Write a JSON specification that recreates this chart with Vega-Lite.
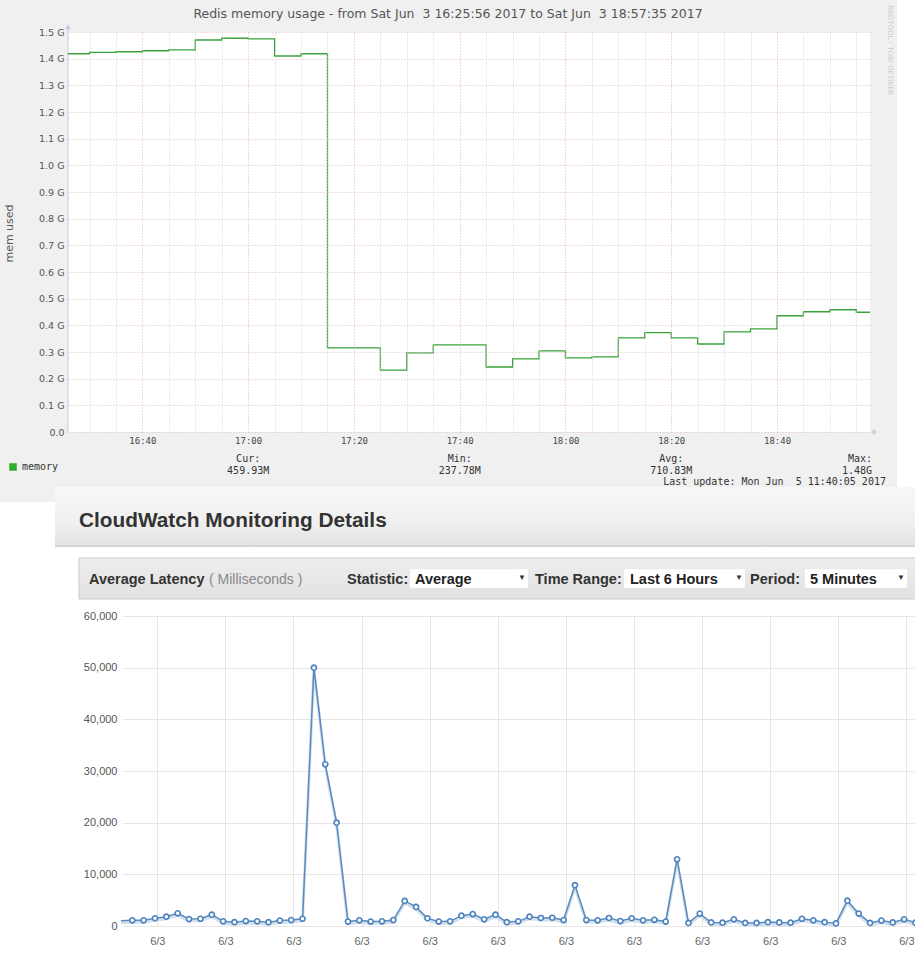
{
"$schema": "https://vega.github.io/schema/vega-lite/v6.json",
"width": 915, "height": 979,
"autosize": {"type": "none"},
"padding": 0,
"background": "#ffffff",
"view": {"stroke": null, "fill": null},
"config": {"font": "Liberation Sans"},
"title": {"text": "Redis memory usage - from Sat Jun\u00a0 3 16:25:56 2017 to Sat Jun\u00a0 3 18:57:35 2017", "font": "DejaVu Sans", "fontSize": 12.5, "fontWeight": "normal", "color": "#555555", "anchor": "middle", "frame": "group", "offset": -20, "dx": -9.5},
"datasets": {
 "memory": [
   {"t":"2017-06-03T16:25:56","v":1.4185,"series":"memory"},
   {"t":"2017-06-03T16:30:00","v":1.4235,"series":"memory"},
   {"t":"2017-06-03T16:35:00","v":1.426,"series":"memory"},
   {"t":"2017-06-03T16:40:00","v":1.4296,"series":"memory"},
   {"t":"2017-06-03T16:45:00","v":1.433,"series":"memory"},
   {"t":"2017-06-03T16:50:00","v":1.47,"series":"memory"},
   {"t":"2017-06-03T16:55:00","v":1.4765,"series":"memory"},
   {"t":"2017-06-03T17:00:00","v":1.474,"series":"memory"},
   {"t":"2017-06-03T17:05:00","v":1.41,"series":"memory"},
   {"t":"2017-06-03T17:10:00","v":1.4185,"series":"memory"},
   {"t":"2017-06-03T17:15:00","v":0.3153,"series":"memory"},
   {"t":"2017-06-03T17:20:00","v":0.3153,"series":"memory"},
   {"t":"2017-06-03T17:25:00","v":0.2324,"series":"memory"},
   {"t":"2017-06-03T17:30:00","v":0.2965,"series":"memory"},
   {"t":"2017-06-03T17:35:00","v":0.3266,"series":"memory"},
   {"t":"2017-06-03T17:40:00","v":0.3266,"series":"memory"},
   {"t":"2017-06-03T17:45:00","v":0.2437,"series":"memory"},
   {"t":"2017-06-03T17:50:00","v":0.2739,"series":"memory"},
   {"t":"2017-06-03T17:55:00","v":0.304,"series":"memory"},
   {"t":"2017-06-03T18:00:00","v":0.2776,"series":"memory"},
   {"t":"2017-06-03T18:05:00","v":0.2814,"series":"memory"},
   {"t":"2017-06-03T18:10:00","v":0.353,"series":"memory"},
   {"t":"2017-06-03T18:15:00","v":0.373,"series":"memory"},
   {"t":"2017-06-03T18:20:00","v":0.353,"series":"memory"},
   {"t":"2017-06-03T18:25:00","v":0.33,"series":"memory"},
   {"t":"2017-06-03T18:30:00","v":0.3756,"series":"memory"},
   {"t":"2017-06-03T18:35:00","v":0.387,"series":"memory"},
   {"t":"2017-06-03T18:40:00","v":0.436,"series":"memory"},
   {"t":"2017-06-03T18:45:00","v":0.451,"series":"memory"},
   {"t":"2017-06-03T18:50:00","v":0.4585,"series":"memory"},
   {"t":"2017-06-03T18:55:00","v":0.449,"series":"memory"},
   {"t":"2017-06-03T18:57:35","v":0.449,"series":"memory"}
 ],
 "latency": [
   {"t":"2017-06-03T15:44:00","v":1000},{"t":"2017-06-03T15:49:00","v":1100},{"t":"2017-06-03T15:54:00","v":1100},
   {"t":"2017-06-03T15:59:00","v":1500},{"t":"2017-06-03T16:04:00","v":1800},{"t":"2017-06-03T16:09:00","v":2450},
   {"t":"2017-06-03T16:14:00","v":1350},{"t":"2017-06-03T16:19:00","v":1400},{"t":"2017-06-03T16:24:00","v":2200},
   {"t":"2017-06-03T16:29:00","v":900},{"t":"2017-06-03T16:34:00","v":750},{"t":"2017-06-03T16:39:00","v":950},
   {"t":"2017-06-03T16:44:00","v":900},{"t":"2017-06-03T16:49:00","v":750},{"t":"2017-06-03T16:54:00","v":1050},
   {"t":"2017-06-03T16:59:00","v":1150},{"t":"2017-06-03T17:04:00","v":1400},{"t":"2017-06-03T17:09:00","v":50000},
   {"t":"2017-06-03T17:14:00","v":31300},{"t":"2017-06-03T17:19:00","v":20000},{"t":"2017-06-03T17:24:00","v":850},
   {"t":"2017-06-03T17:29:00","v":1100},{"t":"2017-06-03T17:34:00","v":850},{"t":"2017-06-03T17:39:00","v":900},
   {"t":"2017-06-03T17:44:00","v":1150},{"t":"2017-06-03T17:49:00","v":4850},{"t":"2017-06-03T17:54:00","v":3700},
   {"t":"2017-06-03T17:59:00","v":1500},{"t":"2017-06-03T18:04:00","v":850},{"t":"2017-06-03T18:09:00","v":900},
   {"t":"2017-06-03T18:14:00","v":2000},{"t":"2017-06-03T18:19:00","v":2300},{"t":"2017-06-03T18:24:00","v":1300},
   {"t":"2017-06-03T18:29:00","v":2200},{"t":"2017-06-03T18:34:00","v":750},{"t":"2017-06-03T18:39:00","v":900},
   {"t":"2017-06-03T18:44:00","v":1800},{"t":"2017-06-03T18:49:00","v":1550},{"t":"2017-06-03T18:54:00","v":1600},
   {"t":"2017-06-03T18:59:00","v":1150},{"t":"2017-06-03T19:04:00","v":7900},{"t":"2017-06-03T19:09:00","v":1150},
   {"t":"2017-06-03T19:14:00","v":1100},{"t":"2017-06-03T19:19:00","v":1550},{"t":"2017-06-03T19:24:00","v":950},
   {"t":"2017-06-03T19:29:00","v":1500},{"t":"2017-06-03T19:34:00","v":1100},{"t":"2017-06-03T19:39:00","v":1200},
   {"t":"2017-06-03T19:44:00","v":850},{"t":"2017-06-03T19:49:00","v":12900},{"t":"2017-06-03T19:54:00","v":600},
   {"t":"2017-06-03T19:59:00","v":2400},{"t":"2017-06-03T20:04:00","v":700},{"t":"2017-06-03T20:09:00","v":650},
   {"t":"2017-06-03T20:14:00","v":1300},{"t":"2017-06-03T20:19:00","v":600},{"t":"2017-06-03T20:24:00","v":600},
   {"t":"2017-06-03T20:29:00","v":750},{"t":"2017-06-03T20:34:00","v":700},{"t":"2017-06-03T20:39:00","v":650},
   {"t":"2017-06-03T20:44:00","v":1400},{"t":"2017-06-03T20:49:00","v":1100},{"t":"2017-06-03T20:54:00","v":750},
   {"t":"2017-06-03T20:59:00","v":500},{"t":"2017-06-03T21:04:00","v":4900},{"t":"2017-06-03T21:09:00","v":2400},
   {"t":"2017-06-03T21:14:00","v":600},{"t":"2017-06-03T21:19:00","v":1050},{"t":"2017-06-03T21:24:00","v":700},
   {"t":"2017-06-03T21:29:00","v":1300},{"t":"2017-06-03T21:34:00","v":650}
 ]
},
"resolve": {"scale": {"x": "independent", "y": "independent", "color": "independent"}},
"layer": [
{
 "resolve": {"axis": {"x": "independent", "y": "independent"}},
 "layer": [
 {"data": {"values": [{}]},
  "mark": {"type": "rect", "fill": "#f0f0f0"},
  "encoding": {
   "x": {"datum": {"year":2017,"month":6,"date":3,"hours":16,"minutes":13,"seconds":4,"milliseconds":500}, "type": "temporal",
     "scale": {"domain": [{"year":2017,"month":6,"date":3,"hours":16,"minutes":13,"seconds":4,"milliseconds":500},{"year":2017,"month":6,"date":3,"hours":19,"minutes":6,"seconds":5,"milliseconds":500}]}, "axis": null},
   "x2": {"datum": {"year":2017,"month":6,"date":3,"hours":19,"minutes":2,"seconds":41}},
   "y": {"datum": 1.62, "type": "quantitative", "scale": {"domain": [-2.05125, 1.62], "nice": false, "zero": false}, "axis": null},
   "y2": {"datum": -0.2625}
  }},
 {"data": {"values": [{}]},
  "mark": {"type": "rect", "fill": "#ffffff"},
  "encoding": {
   "x": {"datum": {"year":2017,"month":6,"date":3,"hours":16,"minutes":25,"seconds":56}, "type": "temporal",
     "axis": {"orient": "top", "offset": -432, "zindex": 1, "labels": false, "domain": false, "grid": false, "ticks": true, "tickSize": 400, "tickDash": [1,2], "tickWidth": 1, "title": null, "maxExtent": 1000,
       "tickColor": {"condition": {"test": "minutes(datum.value) % 20 === 0", "value": "#e6b0b0"}, "value": "#d3d3d3"},
       "values": [
        {"year":2017,"month":6,"date":3,"hours":16,"minutes":30},{"year":2017,"month":6,"date":3,"hours":16,"minutes":35},
        {"year":2017,"month":6,"date":3,"hours":16,"minutes":40},{"year":2017,"month":6,"date":3,"hours":16,"minutes":45},
        {"year":2017,"month":6,"date":3,"hours":16,"minutes":50},{"year":2017,"month":6,"date":3,"hours":16,"minutes":55},
        {"year":2017,"month":6,"date":3,"hours":17,"minutes":0},{"year":2017,"month":6,"date":3,"hours":17,"minutes":5},
        {"year":2017,"month":6,"date":3,"hours":17,"minutes":10},{"year":2017,"month":6,"date":3,"hours":17,"minutes":15},
        {"year":2017,"month":6,"date":3,"hours":17,"minutes":20},{"year":2017,"month":6,"date":3,"hours":17,"minutes":25},
        {"year":2017,"month":6,"date":3,"hours":17,"minutes":30},{"year":2017,"month":6,"date":3,"hours":17,"minutes":35},
        {"year":2017,"month":6,"date":3,"hours":17,"minutes":40},{"year":2017,"month":6,"date":3,"hours":17,"minutes":45},
        {"year":2017,"month":6,"date":3,"hours":17,"minutes":50},{"year":2017,"month":6,"date":3,"hours":17,"minutes":55},
        {"year":2017,"month":6,"date":3,"hours":18,"minutes":0},{"year":2017,"month":6,"date":3,"hours":18,"minutes":5},
        {"year":2017,"month":6,"date":3,"hours":18,"minutes":10},{"year":2017,"month":6,"date":3,"hours":18,"minutes":15},
        {"year":2017,"month":6,"date":3,"hours":18,"minutes":20},{"year":2017,"month":6,"date":3,"hours":18,"minutes":25},
        {"year":2017,"month":6,"date":3,"hours":18,"minutes":30},{"year":2017,"month":6,"date":3,"hours":18,"minutes":35},
        {"year":2017,"month":6,"date":3,"hours":18,"minutes":40},{"year":2017,"month":6,"date":3,"hours":18,"minutes":45},
        {"year":2017,"month":6,"date":3,"hours":18,"minutes":50},{"year":2017,"month":6,"date":3,"hours":18,"minutes":55}
       ]}},
   "x2": {"datum": {"year":2017,"month":6,"date":3,"hours":18,"minutes":57,"seconds":35}},
   "y": {"datum": 0, "type": "quantitative",
     "axis": {"orient": "left", "offset": -870, "zindex": 1, "values": [0,0.1,0.2,0.3,0.4,0.5,0.6,0.7,0.8,0.9,1.0,1.1,1.2,1.3,1.4,1.5],
       "tickSize": 802, "tickDash": [1,2], "tickColor": "#dcbcbc", "tickWidth": 1,
       "labelExpr": "datum.value === 0 ? '0.0' : format(datum.value, '.1f') + ' G'",
       "labelFont": "DejaVu Sans", "labelFontSize": 9.5, "labelColor": "#555555", "labelPadding": 4,
       "domain": false, "grid": false, "maxExtent": 1000, "minExtent": 0,
       "title": "mem used", "titleFont": "DejaVu Sans", "titleFontSize": 11, "titleFontWeight": "normal", "titleColor": "#555555",
       "titleX": -856, "titleY": 233, "titleAngle": -90, "titleAlign": "center", "titleBaseline": "bottom"}},
   "y2": {"datum": 1.5}
  }},
 {"data": {"values": [{}]},
  "mark": {"type": "rule", "color": "#c6c6e6", "strokeWidth": 1},
  "encoding": {
   "x": {"datum": {"year":2017,"month":6,"date":3,"hours":16,"minutes":25,"seconds":56}, "type": "temporal", "axis": null},
   "y": {"datum": 0, "type": "quantitative", "axis": null},
   "y2": {"datum": 1.52}
  }},
 {"data": {"name": "memory"},
  "mark": {"type": "line", "interpolate": "step-after", "strokeWidth": 1.3},
  "encoding": {
   "x": {"field": "t", "type": "temporal",
     "axis": {"orient": "bottom", "offset": -547, "zindex": 1, "format": "%H:%M", "labelFont": "DejaVu Sans Mono", "labelFontSize": 9, "labelColor": "#444444", "labelPadding": 4, "ticks": false, "domain": false, "grid": false, "title": null, "labelFlush": false, "labelOverlap": false,
       "values": [{"year":2017,"month":6,"date":3,"hours":16,"minutes":40},{"year":2017,"month":6,"date":3,"hours":17,"minutes":0},{"year":2017,"month":6,"date":3,"hours":17,"minutes":20},{"year":2017,"month":6,"date":3,"hours":17,"minutes":40},{"year":2017,"month":6,"date":3,"hours":18,"minutes":0},{"year":2017,"month":6,"date":3,"hours":18,"minutes":20},{"year":2017,"month":6,"date":3,"hours":18,"minutes":40}]}},
   "y": {"field": "v", "type": "quantitative", "axis": null},
   "color": {"field": "series", "type": "nominal", "scale": {"range": ["#3aa23a"]},
     "legend": {"orient": "none", "legendX": 8, "legendY": 462, "title": null, "symbolType": "square", "symbolSize": 36, "symbolFillColor": "#20b820", "symbolStrokeColor": "#20b820", "labelFont": "DejaVu Sans Mono", "labelFontSize": 10, "labelColor": "#333333", "labelOffset": 4, "padding": 0, "zindex": 1}}
  }},
 {"data": {"values": [{"s": "Cur:\n459.93M"}]},
  "mark": {"type": "text", "lineBreak": "\n", "font": "DejaVu Sans Mono", "fontSize": 10, "lineHeight": 12.3, "color": "#333333", "align": "center", "baseline": "top"},
  "encoding": {"text": {"field": "s"},
   "x": {"datum": {"year":2017,"month":6,"date":3,"hours":17,"minutes":0}, "type": "temporal", "axis": null},
   "y": {"datum": -0.082, "type": "quantitative", "axis": null}}},
 {"data": {"values": [{"s": "Min:\n237.78M"}]},
  "mark": {"type": "text", "lineBreak": "\n", "font": "DejaVu Sans Mono", "fontSize": 10, "lineHeight": 12.3, "color": "#333333", "align": "center", "baseline": "top"},
  "encoding": {"text": {"field": "s"},
   "x": {"datum": {"year":2017,"month":6,"date":3,"hours":17,"minutes":40}, "type": "temporal", "axis": null},
   "y": {"datum": -0.082, "type": "quantitative", "axis": null}}},
 {"data": {"values": [{"s": "Avg:\n710.83M"}]},
  "mark": {"type": "text", "lineBreak": "\n", "font": "DejaVu Sans Mono", "fontSize": 10, "lineHeight": 12.3, "color": "#333333", "align": "center", "baseline": "top"},
  "encoding": {"text": {"field": "s"},
   "x": {"datum": {"year":2017,"month":6,"date":3,"hours":18,"minutes":20}, "type": "temporal", "axis": null},
   "y": {"datum": -0.082, "type": "quantitative", "axis": null}}},
 {"data": {"values": [{"s": "Max:\n1.48G"}]},
  "mark": {"type": "text", "lineBreak": "\n", "font": "DejaVu Sans Mono", "fontSize": 10, "lineHeight": 12.3, "color": "#333333", "align": "right", "baseline": "top"},
  "encoding": {"text": {"field": "s"},
   "x": {"datum": {"year":2017,"month":6,"date":3,"hours":18,"minutes":57,"seconds":58}, "type": "temporal", "axis": null},
   "y": {"datum": -0.082, "type": "quantitative", "axis": null}}},
 {"data": {"values": [{"s": "Last update: Mon Jun\u00a0 5 11:40:05 2017"}]},
  "mark": {"type": "text", "font": "DejaVu Sans Mono", "fontSize": 10, "color": "#333333", "align": "right", "baseline": "top"},
  "encoding": {"text": {"field": "s"},
   "x": {"datum": {"year":2017,"month":6,"date":3,"hours":19,"minutes":0,"seconds":36}, "type": "temporal", "axis": null},
   "y": {"datum": -0.167, "type": "quantitative", "axis": null}}},
 {"data": {"values": [{"s": "RRDTOOL / TOBI OETIKER"}]},
  "mark": {"type": "text", "font": "DejaVu Sans", "fontSize": 7, "color": "#cccccc", "align": "left", "baseline": "middle", "angle": 90},
  "encoding": {"text": {"field": "s"},
   "x": {"datum": {"year":2017,"month":6,"date":3,"hours":19,"minutes":1,"seconds":22}, "type": "temporal", "axis": null},
   "y": {"datum": 1.601, "type": "quantitative", "axis": null}}},
 {"data": {"values": [{}]},
  "mark": {"type": "point", "shape": "triangle-up", "filled": true, "color": "#c6c6e6", "size": 30, "opacity": 1},
  "encoding": {
   "x": {"datum": {"year":2017,"month":6,"date":3,"hours":16,"minutes":25,"seconds":56}, "type": "temporal", "axis": null},
   "y": {"datum": 1.519, "type": "quantitative", "axis": null}}},
 {"data": {"values": [{}]},
  "mark": {"type": "point", "shape": "triangle-right", "filled": true, "color": "#c6c6e6", "size": 30, "opacity": 1},
  "encoding": {
   "x": {"datum": {"year":2017,"month":6,"date":3,"hours":18,"minutes":58,"seconds":31}, "type": "temporal", "axis": null},
   "y": {"datum": 0, "type": "quantitative", "axis": null}}}
 ]
},
{
 "resolve": {"axis": {"x": "independent", "y": "independent"}},
 "layer": [
 {"data": {"values": [{}]},
  "mark": {"type": "rect", "fill": {"gradient": "linear", "x1": 0, "y1": 0, "x2": 0, "y2": 1, "stops": [{"offset": 0, "color": "#f7f7f7"}, {"offset": 0.6, "color": "#f0f0f0"}, {"offset": 0.96, "color": "#e3e3e3"}, {"offset": 1, "color": "#cfcfcf"}]}},
  "encoding": {
   "x": {"datum": {"year":2017,"month":6,"date":3,"hours":15,"minutes":14,"seconds":57}, "type": "temporal",
     "scale": {"domain": [{"year":2017,"month":6,"date":3,"hours":14,"minutes":50,"seconds":43},{"year":2017,"month":6,"date":3,"hours":21,"minutes":33,"seconds":48}]}, "axis": null},
   "x2": {"datum": {"year":2017,"month":6,"date":3,"hours":21,"minutes":33,"seconds":48}},
   "y": {"datum": 84967.7, "type": "quantitative", "scale": {"domain": [-10258.06, 179225.8], "nice": false, "zero": false}, "axis": null},
   "y2": {"datum": 73354.8}
  }},
 {"data": {"values": [{}]},
  "mark": {"type": "rect", "stroke": "#cccccc", "strokeWidth": 1, "fill": {"gradient": "linear", "x1": 0, "y1": 0, "x2": 0, "y2": 1, "stops": [{"offset": 0, "color": "#eeeeee"}, {"offset": 1, "color": "#e1e1e1"}]}},
  "encoding": {
   "x": {"datum": {"year":2017,"month":6,"date":3,"hours":15,"minutes":25,"seconds":31}, "type": "temporal", "axis": null},
   "x2": {"datum": {"year":2017,"month":6,"date":3,"hours":21,"minutes":40}},
   "y": {"datum": 71225.8, "type": "quantitative", "axis": null},
   "y2": {"datum": 63290.3}
  }},
 {"data": {"values": [{}]},
  "mark": {"type": "rect", "fill": "#ffffff"},
  "encoding": {
   "x": {"datum": {"year":2017,"month":6,"date":3,"hours":17,"minutes":51,"seconds":20}, "type": "temporal", "axis": null},
   "x2": {"datum": {"year":2017,"month":6,"date":3,"hours":18,"minutes":43,"seconds":19}},
   "y": {"datum": 69038.7, "type": "quantitative", "axis": null},
   "y2": {"datum": 65477.4}
  }},
 {"data": {"values": [{}]},
  "mark": {"type": "rect", "fill": "#ffffff"},
  "encoding": {
   "x": {"datum": {"year":2017,"month":6,"date":3,"hours":19,"minutes":25,"seconds":36}, "type": "temporal", "axis": null},
   "x2": {"datum": {"year":2017,"month":6,"date":3,"hours":20,"minutes":18,"seconds":55}},
   "y": {"datum": 69038.7, "type": "quantitative", "axis": null},
   "y2": {"datum": 65477.4}
  }},
 {"data": {"values": [{}]},
  "mark": {"type": "rect", "fill": "#ffffff"},
  "encoding": {
   "x": {"datum": {"year":2017,"month":6,"date":3,"hours":20,"minutes":45,"seconds":21}, "type": "temporal", "axis": null},
   "x2": {"datum": {"year":2017,"month":6,"date":3,"hours":21,"minutes":30,"seconds":17}},
   "y": {"datum": 69038.7, "type": "quantitative", "axis": null},
   "y2": {"datum": 65477.4}
  }},
 {"data": {"values": [{"s": "CloudWatch Monitoring Details"}]},
  "mark": {"type": "text", "align": "left", "baseline": "alphabetic", "fontSize": 20.8, "fontWeight": "bold", "color": "#333333"},
  "encoding": {"text": {"field": "s"},
   "x": {"datum": {"year":2017,"month":6,"date":3,"hours":15,"minutes":25,"seconds":31}, "type": "temporal", "axis": null},
   "y": {"datum": 77225.8, "type": "quantitative", "axis": null}}},
 {"data": {"values": [{"s": "Average Latency"}]},
  "mark": {"type": "text", "align": "left", "baseline": "alphabetic", "fontSize": 14.5, "fontWeight": "bold", "color": "#333333"},
  "encoding": {"text": {"field": "s"},
   "x": {"datum": {"year":2017,"month":6,"date":3,"hours":15,"minutes":29,"seconds":55}, "type": "temporal", "axis": null},
   "y": {"datum": 66290.3, "type": "quantitative", "axis": null}}},
 {"data": {"values": [{"s": "( Milliseconds )"}]},
  "mark": {"type": "text", "align": "left", "baseline": "alphabetic", "fontSize": 14, "color": "#888888"},
  "encoding": {"text": {"field": "s"},
   "x": {"datum": {"year":2017,"month":6,"date":3,"hours":16,"minutes":22,"seconds":47}, "type": "temporal", "axis": null},
   "y": {"datum": 66290.3, "type": "quantitative", "axis": null}}},
 {"data": {"values": [{"s": "Statistic:"}]},
  "mark": {"type": "text", "align": "left", "baseline": "alphabetic", "fontSize": 14.5, "fontWeight": "bold", "color": "#333333"},
  "encoding": {"text": {"field": "s"},
   "x": {"datum": {"year":2017,"month":6,"date":3,"hours":17,"minutes":23,"seconds":35}, "type": "temporal", "axis": null},
   "y": {"datum": 66290.3, "type": "quantitative", "axis": null}}},
 {"data": {"values": [{"s": "Time Range:"}]},
  "mark": {"type": "text", "align": "left", "baseline": "alphabetic", "fontSize": 14.5, "fontWeight": "bold", "color": "#333333"},
  "encoding": {"text": {"field": "s"},
   "x": {"datum": {"year":2017,"month":6,"date":3,"hours":18,"minutes":46,"seconds":24}, "type": "temporal", "axis": null},
   "y": {"datum": 66290.3, "type": "quantitative", "axis": null}}},
 {"data": {"values": [{"s": "Period:"}]},
  "mark": {"type": "text", "align": "left", "baseline": "alphabetic", "fontSize": 14.5, "fontWeight": "bold", "color": "#333333"},
  "encoding": {"text": {"field": "s"},
   "x": {"datum": {"year":2017,"month":6,"date":3,"hours":20,"minutes":21,"seconds":7}, "type": "temporal", "axis": null},
   "y": {"datum": 66290.3, "type": "quantitative", "axis": null}}},
 {"data": {"values": [{"s": "Average"}]},
  "mark": {"type": "text", "align": "left", "baseline": "alphabetic", "fontSize": 14.5, "fontWeight": "bold", "color": "#222222"},
  "encoding": {"text": {"field": "s"},
   "x": {"datum": {"year":2017,"month":6,"date":3,"hours":17,"minutes":53,"seconds":32}, "type": "temporal", "axis": null},
   "y": {"datum": 66290.3, "type": "quantitative", "axis": null}}},
 {"data": {"values": [{"s": "Last 6 Hours"}]},
  "mark": {"type": "text", "align": "left", "baseline": "alphabetic", "fontSize": 14.5, "fontWeight": "bold", "color": "#222222"},
  "encoding": {"text": {"field": "s"},
   "x": {"datum": {"year":2017,"month":6,"date":3,"hours":19,"minutes":28,"seconds":15}, "type": "temporal", "axis": null},
   "y": {"datum": 66290.3, "type": "quantitative", "axis": null}}},
 {"data": {"values": [{"s": "5 Minutes"}]},
  "mark": {"type": "text", "align": "left", "baseline": "alphabetic", "fontSize": 14.5, "fontWeight": "bold", "color": "#222222"},
  "encoding": {"text": {"field": "s"},
   "x": {"datum": {"year":2017,"month":6,"date":3,"hours":20,"minutes":47,"seconds":33}, "type": "temporal", "axis": null},
   "y": {"datum": 66290.3, "type": "quantitative", "axis": null}}},
 {"data": {"values": [{"s": "▼"}]},
  "mark": {"type": "text", "align": "center", "baseline": "middle", "fontSize": 8, "color": "#333333"},
  "encoding": {"text": {"field": "s"},
   "x": {"datum": {"year":2017,"month":6,"date":3,"hours":18,"minutes":40,"seconds":40}, "type": "temporal", "axis": null},
   "y": {"datum": 67258.1, "type": "quantitative", "axis": null}}},
 {"data": {"values": [{"s": "▼"}]},
  "mark": {"type": "text", "align": "center", "baseline": "middle", "fontSize": 8, "color": "#333333"},
  "encoding": {"text": {"field": "s"},
   "x": {"datum": {"year":2017,"month":6,"date":3,"hours":20,"minutes":16,"seconds":16}, "type": "temporal", "axis": null},
   "y": {"datum": 67258.1, "type": "quantitative", "axis": null}}},
 {"data": {"values": [{"s": "▼"}]},
  "mark": {"type": "text", "align": "center", "baseline": "middle", "fontSize": 8, "color": "#333333"},
  "encoding": {"text": {"field": "s"},
   "x": {"datum": {"year":2017,"month":6,"date":3,"hours":21,"minutes":27,"seconds":38}, "type": "temporal", "axis": null},
   "y": {"datum": 67258.1, "type": "quantitative", "axis": null}}},
 {"data": {"name": "latency"},
  "mark": {"type": "line", "color": "#d3dfec", "strokeWidth": 3, "yOffset": 2},
  "encoding": {
   "x": {"field": "t", "type": "temporal", "axis": null},
   "y": {"field": "v", "type": "quantitative", "axis": null}}},
 {"data": {"name": "latency"},
  "mark": {"type": "line", "color": "#5b8bbd", "strokeWidth": 1.5},
  "encoding": {
   "x": {"field": "t", "type": "temporal",
     "axis": {"orient": "top", "offset": -926, "labels": false, "domain": false, "grid": false, "ticks": true, "tickSize": 310, "tickColor": "#e6e6e6", "tickWidth": 1, "title": null, "maxExtent": 1000,
       "values": [{"year":2017,"month":6,"date":3,"hours":16,"minutes":0},{"year":2017,"month":6,"date":3,"hours":16,"minutes":30},{"year":2017,"month":6,"date":3,"hours":17,"minutes":0},{"year":2017,"month":6,"date":3,"hours":17,"minutes":30},{"year":2017,"month":6,"date":3,"hours":18,"minutes":0},{"year":2017,"month":6,"date":3,"hours":18,"minutes":30},{"year":2017,"month":6,"date":3,"hours":19,"minutes":0},{"year":2017,"month":6,"date":3,"hours":19,"minutes":30},{"year":2017,"month":6,"date":3,"hours":20,"minutes":0},{"year":2017,"month":6,"date":3,"hours":20,"minutes":30},{"year":2017,"month":6,"date":3,"hours":21,"minutes":0},{"year":2017,"month":6,"date":3,"hours":21,"minutes":30}]}},
   "y": {"field": "v", "type": "quantitative",
     "axis": {"orient": "left", "offset": -915, "values": [0,10000,20000,30000,40000,50000,60000], "labelExpr": "format(datum.value, ',')", "tickSize": 793, "tickColor": "#e6e6e6", "tickWidth": 1, "labelFont": "Liberation Sans", "labelFontSize": 11, "labelColor": "#555555", "labelPadding": 5, "domain": false, "grid": false, "title": null, "maxExtent": 1000}}}},
 {"data": {"name": "latency"},
  "transform": [{"filter": "time(datum.t) > time(datetime(2017, 5, 3, 15, 46, 0))"}],
  "mark": {"type": "point", "shape": "circle", "filled": true, "fill": "#ffffff", "stroke": "#4a82bf", "strokeWidth": 1.6, "size": 26, "opacity": 1},
  "encoding": {
   "x": {"field": "t", "type": "temporal",
     "axis": {"orient": "bottom", "offset": -53, "format": "%-m/%-d", "labelFont": "Liberation Sans", "labelFontSize": 11, "labelColor": "#666666", "labelPadding": 9, "ticks": false, "domain": false, "grid": false, "title": null, "labelFlush": false, "labelOverlap": false,
       "values": [{"year":2017,"month":6,"date":3,"hours":16,"minutes":0},{"year":2017,"month":6,"date":3,"hours":16,"minutes":30},{"year":2017,"month":6,"date":3,"hours":17,"minutes":0},{"year":2017,"month":6,"date":3,"hours":17,"minutes":30},{"year":2017,"month":6,"date":3,"hours":18,"minutes":0},{"year":2017,"month":6,"date":3,"hours":18,"minutes":30},{"year":2017,"month":6,"date":3,"hours":19,"minutes":0},{"year":2017,"month":6,"date":3,"hours":19,"minutes":30},{"year":2017,"month":6,"date":3,"hours":20,"minutes":0},{"year":2017,"month":6,"date":3,"hours":20,"minutes":30},{"year":2017,"month":6,"date":3,"hours":21,"minutes":0},{"year":2017,"month":6,"date":3,"hours":21,"minutes":30}]}},
   "y": {"field": "v", "type": "quantitative", "axis": null}}}
 ]
}
]
}
